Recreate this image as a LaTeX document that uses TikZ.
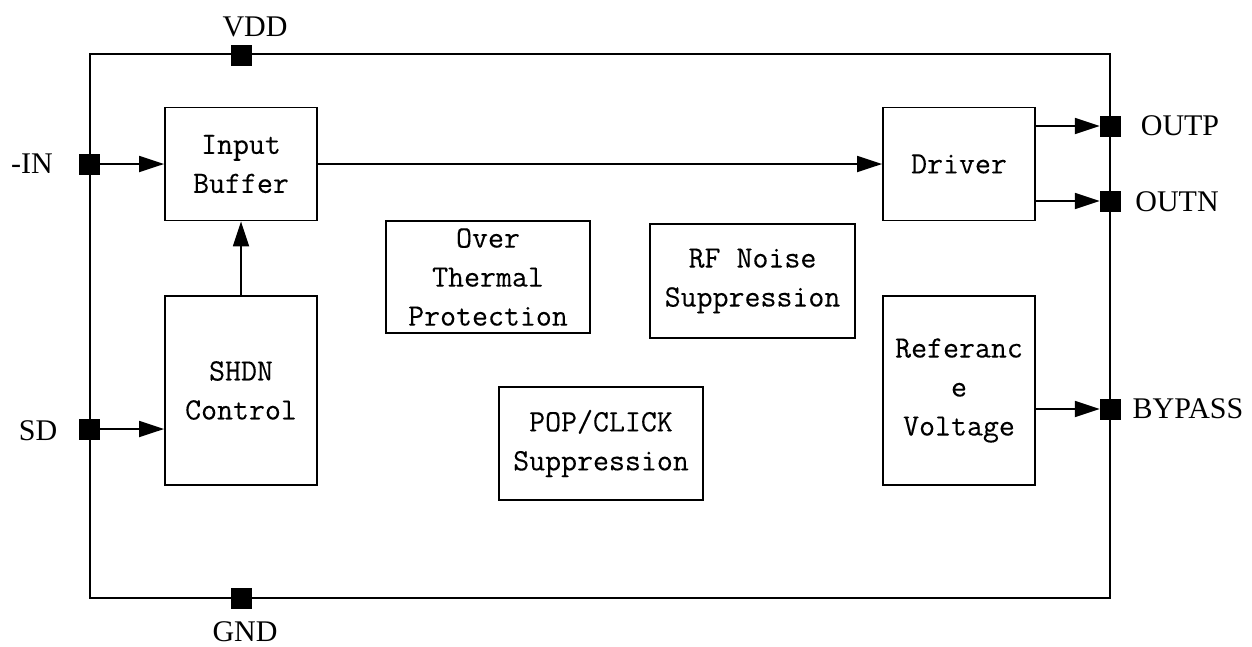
\documentclass[tikz,border=0pt]{standalone}
\usepackage{fontspec}
\newfontfamily\lblfont{Liberation Serif}
\newfontfamily\boxfont[FakeBold=0.15]{Latin Modern Mono}
\usetikzlibrary{arrows.meta}
\begin{document}
\begin{tikzpicture}[x=1pt,y=-1pt,
  blk/.style={draw, line width=1.8pt, align=center, inner sep=0pt,
    font=\boxfont\fontsize{31}{39}\selectfont},
  pin/.style={fill=black, draw=black, minimum size=20pt, inner sep=0pt},
  lbl/.style={font=\lblfont\fontsize{30}{32}\selectfont, inner sep=0pt},
  arr/.style={line width=1.8pt, -{Triangle[length=25pt,width=16pt]}},
  wire/.style={line width=1.8pt}]
\useasboundingbox (0,0) rectangle (1252,646);
% frame
\draw[wire] (90,54) rectangle (1110,598);
% blocks
\node[blk, minimum width=152pt, minimum height=113pt] (inbuf) at (241,164) {Input\\Buffer};
\node[blk, minimum width=152pt, minimum height=189pt] (shdn) at (241,390.5) {SHDN\\Control};
\node[blk, minimum width=204pt, minimum height=112pt] (otp) at (488,277) {Over\\Thermal\\Protection};
\node[blk, minimum width=205pt, minimum height=114pt] (rf) at (752.5,281) {RF Noise\\Suppression};
\node[blk, minimum width=204pt, minimum height=113pt] (pop) at (601,443.5) {POP/CLICK\\Suppression};
\node[blk, minimum width=152pt, minimum height=113pt] (drv) at (959,164) {Driver};
\node[blk, minimum width=152pt, minimum height=189pt] (ref) at (959,390.5) {Referanc\\e\\Voltage};
% pins
\node[pin] (pvdd) at (241,55) {};
\node[pin] (pin) at (89,164) {};
\node[pin] (psd) at (89,429) {};
\node[pin] (pgnd) at (241,598) {};
\node[pin] (poutp) at (1110,126) {};
\node[pin] (poutn) at (1110,201) {};
\node[pin] (pbyp) at (1110,409) {};
% labels
\node[lbl] (lvdd) at (255,27) {VDD};
\node[lbl] (lin) at (32,164) {-IN};
\node[lbl] (lsd) at (38,431) {SD};
\node[lbl] (lgnd) at (245,632) {GND};
\node[lbl] (loutp) at (1180,126) {OUTP};
\node[lbl] (loutn) at (1177,202) {OUTN};
\node[lbl] (lbyp) at (1188,409) {BYPASS};
% connectors
\draw[arr] (pin) -- (inbuf);
\draw[arr] (psd) -- (psd -| shdn.west);
\draw[arr] (shdn) -- (inbuf);
\draw[arr] (inbuf) -- (drv);
\draw[arr] (drv.east |- poutp) -- (poutp);
\draw[arr] (drv.east |- poutn) -- (poutn);
\draw[arr] (ref.east |- pbyp) -- (pbyp);
\end{tikzpicture}
\end{document}
